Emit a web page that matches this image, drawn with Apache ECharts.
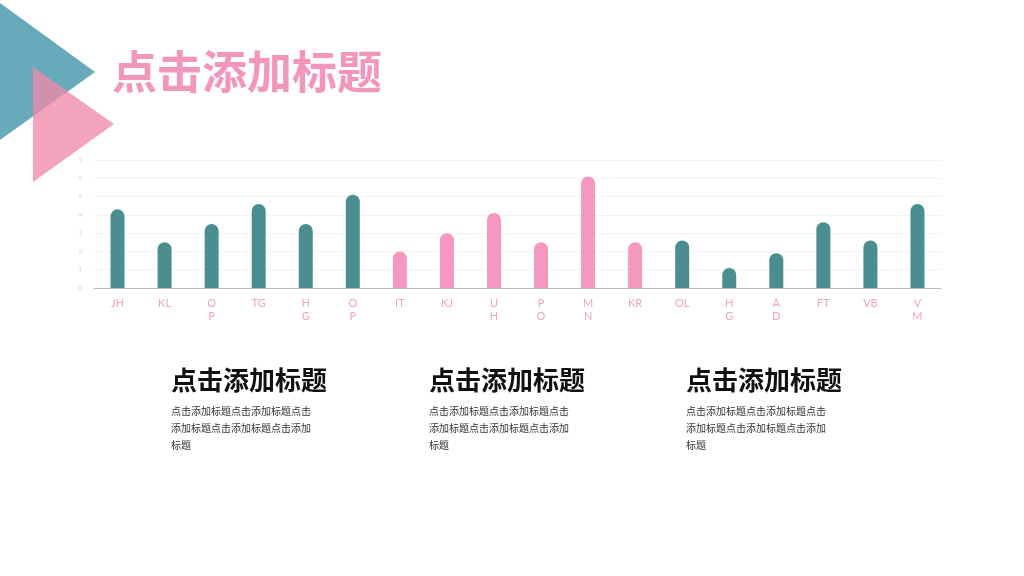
<!DOCTYPE html>
<html>
<head>
<meta charset="utf-8">
<title>点击添加标题</title>
<script src="https://cdn.jsdelivr.net/npm/echarts@6/dist/echarts.min.js"></script>
<style>
  html, body { margin: 0; padding: 0; background: #fff; }
  #main { width: 1024px; height: 576px; }
</style>
</head>
<body>
<div id="main"></div>
<script>
var categories = ["JH", "KL", "O\nP", "TG", "H\nG", "O\nP", "IT", "KJ", "U\nH", "P\nO", "M\nN", "KR", "OL", "H\nG", "A\nD", "FT", "VB", "V\nM"];
var values = [4.3, 2.5, 3.5, 4.6, 3.5, 5.1, 2.0, 3.0, 4.1, 2.5, 6.1, 2.5, 2.6, 1.1, 1.9, 3.6, 2.6, 4.6];
var pinkGroup = [false, false, false, false, false, false, true, true, true, true, true, true, false, false, false, false, false, false];
var mainTitle = "点击添加标题";
var blockTitles = ["点击添加标题", "点击添加标题", "点击添加标题"];
var blockText = "点击添加标题点击添加标题点击\n添加标题点击添加标题点击添加\n标题";

var teal = "#4a8e8f";
var pink = "#f597bf";
var font = "'Noto Sans CJK SC', 'Noto Sans', sans-serif";

var dom = document.getElementById("main");
var myChart = echarts.init(dom);

var blocks = [];
var blockX = [171, 429, 686];
blockX.forEach(function (x, i) {
  blocks.push({
    type: "text",
    left: x,
    top: 367,
    style: { text: blockTitles[i], fontSize: 26, fontWeight: "bold", fill: "#111", fontFamily: font }
  });
  blocks.push({
    type: "text",
    left: x,
    top: 403,
    style: { text: blockText, fontSize: 10, lineHeight: 17, fill: "#333", fontFamily: font }
  });
});

var option = {
  backgroundColor: "#fff",
  graphic: [
    {
      type: "polygon",
      shape: { points: [[0, 3], [95, 72], [0, 140]] },
      style: { fill: "#66aabb" }
    },
    {
      type: "polygon",
      shape: { points: [[33, 67], [114, 124], [33, 182]] },
      style: { fill: "#f08aa9", opacity: 0.78 }
    },
    {
      type: "text",
      left: 112,
      top: 49,
      style: { text: mainTitle, fontSize: 45, fontWeight: "bold", fill: "#f296bb", fontFamily: font }
    }
  ].concat(blocks),
  grid: { left: 94, right: 83, top: 160, bottom: 288, containLabel: false },
  xAxis: {
    type: "category",
    data: categories,
    axisLine: { lineStyle: { color: "#b8b8b8" } },
    axisTick: { show: false },
    axisLabel: { color: "#f0a3c4", fontSize: 11, lineHeight: 13, margin: 9, interval: 0, fontFamily: "Lato, sans-serif" }
  },
  yAxis: {
    type: "value",
    min: 0,
    max: 7,
    interval: 1,
    axisLine: { show: false },
    axisTick: { show: false },
    axisLabel: { color: "#cfcfcf", fontSize: 6, margin: 12 },
    splitLine: { lineStyle: { color: "#f3f3f3" } }
  },
  series: [
    {
      type: "bar",
      data: values,
      barWidth: 14,
      itemStyle: {
        borderRadius: [7, 7, 0, 0],
        color: function (p) { return pinkGroup[p.dataIndex] ? pink : teal; }
      }
    }
  ]
};
myChart.setOption(option);
</script>
</body>
</html>
